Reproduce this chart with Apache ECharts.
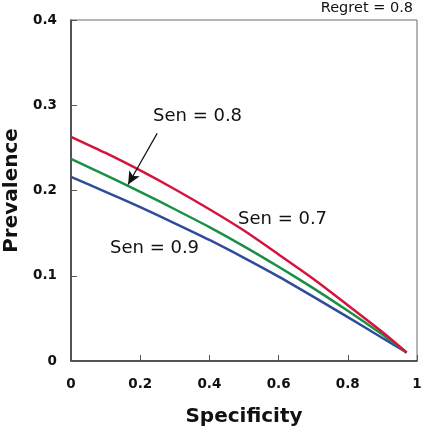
<!DOCTYPE html>
<html><head><meta charset="utf-8">
<script src="https://cdn.jsdelivr.net/npm/echarts@6/dist/echarts.min.js"></script>
<style>html,body{margin:0;padding:0;background:#fff}#c{width:425px;height:430px}</style>
</head><body><div id="c"></div>
<script>
const specificity = [0, 0.1, 0.2, 0.3, 0.4, 0.5, 0.6, 0.7, 0.8, 0.9, 0.97];
const sen07 = [0.263, 0.244, 0.2235, 0.2015, 0.178, 0.153, 0.125, 0.0965, 0.0655, 0.034, 0.01];
const sen08 = [0.237, 0.218, 0.1985, 0.178, 0.157, 0.1345, 0.1105, 0.0855, 0.059, 0.031, 0.01];
const sen09 = [0.216, 0.1985, 0.1805, 0.1615, 0.142, 0.121, 0.099, 0.0755, 0.0515, 0.027, 0.01];
const xTicks = [0, 0.2, 0.4, 0.6, 0.8, 1];
const yTicks = [0, 0.1, 0.2, 0.3, 0.4];
const arrowFrom = [0.249, 0.267];
const arrowTo = [0.165, 0.207];

const F = 'DejaVu Sans, Verdana, sans-serif';
const chart = echarts.init(document.getElementById('c'));
function pairs(ys){ return specificity.map((x,i)=>[x, ys[i]]); }
const fmt = v => String(+v.toFixed(1));

chart.setOption({
  backgroundColor: '#fff',
  animation: false,
  grid: {left: 71, right: 8, top: 20, bottom: 69, containLabel: false, outerBoundsMode: 'none',
         show: true, borderColor: '#6b6b6b', borderWidth: 1},
  xAxis: {
    type: 'value', min: 0, max: 1, interval: 0.2,
    name: 'Specificity', nameLocation: 'middle', nameGap: 46,
    nameTextStyle: {fontFamily: F, fontWeight: 'bold', fontSize: 20, color: '#111'},
    axisLine: {show: true, lineStyle: {color: '#333', width: 1.5}},
    axisTick: {show: true, inside: true, length: 6, lineStyle: {color: '#555'}},
    axisLabel: {fontFamily: F, fontWeight: 'bold', fontSize: 13.5, color: '#111', margin: 16, formatter: fmt},
    splitLine: {show: false}
  },
  yAxis: {
    type: 'value', min: 0, max: 0.4, interval: 0.1,
    name: 'Prevalence', nameLocation: 'middle', nameGap: 42, nameRotate: 90,
    nameTextStyle: {fontFamily: F, fontWeight: 'bold', fontSize: 20, color: '#111'},
    axisLine: {show: true, lineStyle: {color: '#333', width: 1.5}},
    axisTick: {show: true, inside: true, length: 6, lineStyle: {color: '#555'}},
    axisLabel: {fontFamily: F, fontWeight: 'bold', fontSize: 13.5, color: '#111', margin: 14, formatter: fmt},
    splitLine: {show: false}
  },
  series: [
    {name: 'Sen = 0.7', type: 'line', data: pairs(sen07), smooth: 0.2, showSymbol: false,
     lineStyle: {color: '#d4143f', width: 2.5}, z: 3},
    {name: 'Sen = 0.8', type: 'line', data: pairs(sen08), smooth: 0.2, showSymbol: false,
     lineStyle: {color: '#1a8f45', width: 2.5}, z: 2,
     markLine: {silent: true, symbol: ['none', 'arrow'], symbolSize: [9, 13],
       lineStyle: {color: '#111', width: 1.2, type: 'solid'}, label: {show: false},
       data: [[{coord: arrowFrom}, {coord: arrowTo}]]}},
    {name: 'Sen = 0.9', type: 'line', data: pairs(sen09), smooth: 0.2, showSymbol: false,
     lineStyle: {color: '#2f4b9b', width: 2.5}, z: 1}
  ],
  graphic: [
    {type: 'text', right: 12, top: 1, style: {text: 'Regret = 0.8', fontFamily: F, fontSize: 14.5, fill: '#111'}},
    {type: 'text', left: 153, top: 107, style: {text: 'Sen = 0.8', fontFamily: F, fontSize: 18, fill: '#111'}},
    {type: 'text', left: 238, top: 210, style: {text: 'Sen = 0.7', fontFamily: F, fontSize: 18, fill: '#111'}},
    {type: 'text', left: 110, top: 239, style: {text: 'Sen = 0.9', fontFamily: F, fontSize: 18, fill: '#111'}}
  ]
});
</script></body></html>
